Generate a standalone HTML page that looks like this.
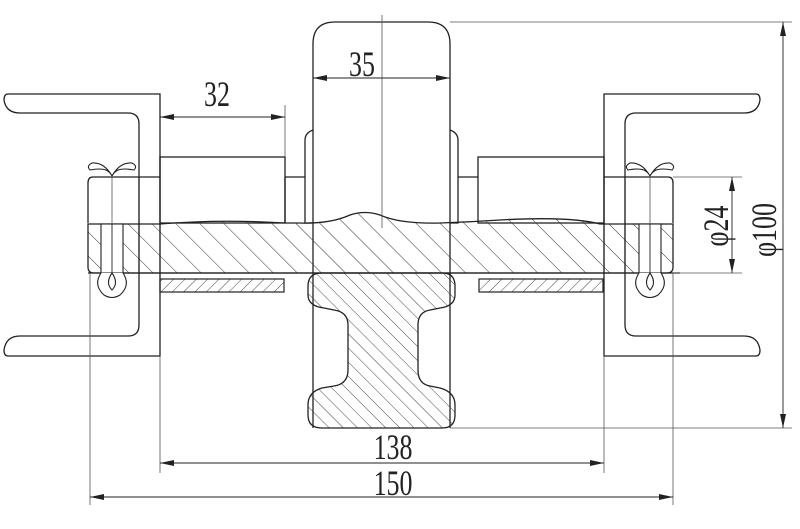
<!DOCTYPE html>
<html><head><meta charset="utf-8"><style>
html,body{margin:0;padding:0;background:#fff;}
svg{display:block;}
text{font-family:"Liberation Serif",serif;fill:#222;}
</style></head><body>
<svg width="800" height="529" viewBox="0 0 800 529" xmlns="http://www.w3.org/2000/svg">
<defs>
<pattern id="h1" patternUnits="userSpaceOnUse" width="17" height="17" patternTransform="rotate(-45)">
<line x1="0" y1="0" x2="0" y2="17" stroke="#333" stroke-width="1"/></pattern>
<pattern id="h2" patternUnits="userSpaceOnUse" width="10" height="10" patternTransform="rotate(-45)">
<line x1="0" y1="0" x2="0" y2="10" stroke="#333" stroke-width="0.9"/></pattern>
<pattern id="h3" patternUnits="userSpaceOnUse" width="8" height="8" patternTransform="rotate(45)">
<line x1="0" y1="0" x2="0" y2="8" stroke="#333" stroke-width="0.9"/></pattern>
<marker id="a" viewBox="0 0 14 6" refX="14" refY="3" markerWidth="14" markerHeight="6" markerUnits="userSpaceOnUse" orient="auto-start-reverse"><path d="M0,0 L14,3 L0,6z" fill="#222"/></marker>
</defs>
<g fill="none" stroke="#222" stroke-width="1.3">
<path d="M313,428 L313,44 Q313,22 335,22 L428,22 Q450,22 450,44 L450,428"/>
<path d="M313,223 L305,223 L305,140 Q305,133 313,130"/>
<path d="M450,223 L458,223 L458,140 Q458,133 450,130"/>
<path d="M160,94 L8,94 Q4,94 4,100 Q6,113 20,113 L128,113 Q139,113 139,124 L139,325 Q139,336 128,336 L20,336 Q6,336 4,350 Q4,356 8,356 L160,356 Z"/>
<path d="M604,94 L756,94 Q760,94 760,100 Q758,113 744,113 L636,113 Q625,113 625,124 L625,325 Q625,336 636,336 L744,336 Q758,336 760,350 Q760,356 756,356 L604,356 Z"/>
<rect x="160" y="157" width="125" height="66"/>
<rect x="478" y="157" width="126" height="66"/>
<path d="M285,177 L305,177 M285,177 L285,223"/>
<path d="M478,177 L458,177"/>
<path d="M160,177 L93,177 Q88,177 88,183 L88,223"/>
<path d="M604,177 L668,177 Q673,177 673,183 L673,223"/>
</g>
<path d="M88,224 L160,224 Q220,219 285,223 L300,223 Q330,224 350,215 Q365,210 380,215 Q400,224 440,223 Q470,222 500,220 Q570,216 600,224 L673,224 L673,267 Q673,273 667,273 L94,273 Q88,273 88,267 Z" fill="url(#h1)" stroke="#222" stroke-width="1.3"/>
<line x1="88" y1="273" x2="680" y2="273" stroke="#222" stroke-width="1.3"/>
<g stroke="#222" stroke-width="1.1"><line x1="139" y1="177" x2="139" y2="273"/><line x1="160" y1="157" x2="160" y2="273"/><line x1="604" y1="157" x2="604" y2="273"/><line x1="625" y1="177" x2="625" y2="273"/></g>
<rect x="160" y="279" width="124" height="13" fill="url(#h3)" stroke="#222" stroke-width="1.2"/>
<rect x="479" y="279" width="124" height="13" fill="url(#h3)" stroke="#222" stroke-width="1.2"/>
<path d="M322,273 L442,273 Q455,273 455,286 L455,295 Q455,306 440,308 L430,310 Q418,312 418,325 L418,370 Q418,384 430,386 L440,388 Q455,392 455,405 L455,415 Q455,428 442,428 L322,428 Q308,428 308,415 L308,405 Q308,392 322,388 L334,386 Q348,384 348,370 L348,325 Q348,312 334,310 L324,308 Q308,306 308,295 L308,286 Q308,273 322,273 Z" fill="url(#h2)" stroke="#222" stroke-width="1.3"/>
<g fill="#fff" stroke="#222" stroke-width="1.1">
<rect x="101" y="224" width="22" height="49"/>
<path d="M101,273 Q93,285 104,295 Q112,300 120,295 Q131,285 123,273"/>
<path d="M112,273 Q105,283 112,290 Q119,283 112,273"/>
<path d="M112,176 Q104,162 92,163 Q86,166 90,170 Q100,168 106,170 Q110,172 112,176 Q114,172 118,170 Q124,168 134,170 Q138,166 132,163 Q120,162 112,176Z"/>
<rect x="639" y="224" width="22" height="49"/>
<path d="M639,273 Q631,285 642,295 Q650,300 658,295 Q669,285 661,273"/>
<path d="M650,273 Q643,283 650,290 Q657,283 650,273"/>
<path d="M650,176 Q642,162 630,163 Q624,166 628,170 Q638,168 644,170 Q648,172 650,176 Q652,172 656,170 Q662,168 672,170 Q676,166 670,163 Q658,162 650,176Z"/>
</g>
<g stroke="#222" stroke-width="0.9"><line x1="112" y1="224" x2="112" y2="273"/><line x1="650" y1="224" x2="650" y2="273"/></g>
<g stroke="#555" stroke-width="0.8" fill="none">
<line x1="382" y1="15" x2="382" y2="228"/>
<line x1="112" y1="176" x2="112" y2="224"/>
<line x1="650" y1="176" x2="650" y2="224"/>
<line x1="90" y1="273" x2="90" y2="505"/>
<line x1="160" y1="356" x2="160" y2="473"/>
<line x1="604" y1="356" x2="604" y2="473"/>
<line x1="673" y1="273" x2="673" y2="505"/>
<line x1="285" y1="105" x2="285" y2="157"/>
<line x1="450" y1="22" x2="792" y2="22"/>
<line x1="450" y1="428" x2="792" y2="428"/>
<line x1="673" y1="177" x2="742" y2="177"/>
<line x1="673" y1="273" x2="742" y2="273"/>
</g>
<g stroke="#222" stroke-width="0.9" fill="none">
<line x1="160" y1="117" x2="285" y2="117" marker-start="url(#a)" marker-end="url(#a)"/>
<line x1="313" y1="78" x2="450" y2="78" marker-start="url(#a)" marker-end="url(#a)"/>
<line x1="160" y1="463" x2="604" y2="463" marker-start="url(#a)" marker-end="url(#a)"/>
<line x1="90" y1="497" x2="673" y2="497" marker-start="url(#a)" marker-end="url(#a)"/>
<line x1="732" y1="177" x2="732" y2="273" marker-start="url(#a)" marker-end="url(#a)"/>
<line x1="783" y1="22" x2="783" y2="428" marker-start="url(#a)" marker-end="url(#a)"/>
</g>
<g font-size="36">
<text transform="translate(217,106) scale(0.72,1)" text-anchor="middle">32</text>
<text transform="translate(362,76) scale(0.72,1)" text-anchor="middle">35</text>
<text transform="translate(393,459) scale(0.72,1)" text-anchor="middle">138</text>
<text transform="translate(393,495) scale(0.72,1)" text-anchor="middle">150</text>
<text transform="translate(728,226) rotate(-90) scale(0.72,1)" text-anchor="middle">φ24</text>
<text transform="translate(776,230) rotate(-90) scale(0.72,1)" text-anchor="middle">φ100</text>
</g>
</svg>
</body></html>
